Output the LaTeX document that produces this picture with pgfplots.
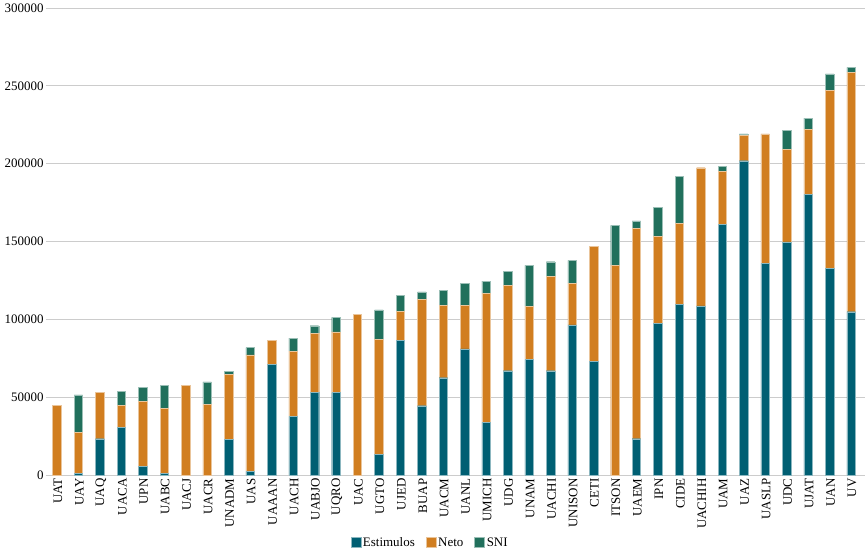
\documentclass[border=0pt]{standalone}
\usepackage{fontspec}
\setmainfont{Liberation Serif}
\usepackage{pgfplots}
\usepackage{pgfplotstable}
\pgfplotsset{compat=1.18}

\definecolor{estim}{RGB}{0,95,115}
\definecolor{neto}{RGB}{209,126,32}
\definecolor{sni}{RGB}{33,112,92}

\pgfplotstableread{
idx name est neto sni
0 UAT 0 44800 0
1 UAY 1000 26400 24000
2 UAQ 23300 29800 0
3 UACA 30600 14200 9100
4 UPN 5600 41900 8800
5 UABC 900 42100 14800
6 UACJ 0 57800 0
7 UACR 0 45400 14500
8 UNADM 22700 42000 1700
9 UAS 2400 74700 4700
10 UAAAN 70900 15600 0
11 UACH 37700 41900 8400
12 UABJO 52900 38300 4700
13 UQRO 52900 39100 9300
14 UAC 0 103400 0
15 UGTO 13300 74000 18700
16 UJED 86300 19000 9900
17 BUAP 44500 68300 4900
18 UACM 62500 46700 9200
19 UANL 81100 28100 13900
20 UMICH 33800 83100 7700
21 UDG 67000 55000 8600
22 UNAM 74100 34200 26400
23 UACHI 67000 60600 9400
24 UNISON 96500 26600 14800
25 CETI 73000 74100 0
26 ITSON 0 134700 25700
27 UAEM 23300 135300 4700
28 IPN 97200 56300 18400
29 CIDE 109600 52200 30200
30 UACHIH 108700 88700 0
31 UAM 161000 34200 3000
32 UAZ 201900 16500 800
33 UASLP 136000 83200 0
34 UDC 149800 59600 12200
35 UJAT 180300 41900 7100
36 UAN 132900 114400 10400
37 UV 104900 153900 3000
}\datatable

\begin{document}
\begin{tikzpicture}
\begin{axis}[
    scale only axis,
    width=819bp,
    height=467bp,
    ybar stacked,
    bar width=8.5bp,
    xmin=-0.51, xmax=37.65,
    ymin=0, ymax=300000,
    ytick={0,50000,...,300000},
    scaled y ticks=false,
    /pgf/number format/.cd, fixed, 1000 sep={}, assume math mode=true,
    /pgfplots/.cd,
    xtick=data,
    xticklabels from table={\datatable}{name},
    ymajorgrids=true,
    grid style={black!20, line width=0.8pt},
    axis line style={draw=none},
    major tick style={draw=none},
    ticklabel style={font=\rmfamily\fontsize{13}{15}\selectfont},
    yticklabel style={xshift=1bp},
    xticklabel style={rotate=90, anchor=east, yshift=-1bp},
    legend style={at={(0.469,-0.146)}, anchor=center, draw=none,
        font=\rmfamily\fontsize{13}{15}\selectfont, legend columns=3,
        inner sep=0pt,
        /tikz/every even column/.append style={column sep=9bp}},
    legend image code/.code={\fill[#1] (0bp,-4bp) rectangle (10bp,6bp);},
]
\coordinate (o) at (rel axis cs:0,0);
\addplot[fill=estim, draw=estim!45, line width=0.4bp] table[x=idx, y=est] {\datatable};
\addplot[fill=neto, draw=neto!45, line width=0.4bp] table[x=idx, y=neto] {\datatable};
\addplot[fill=sni, draw=sni!45, line width=0.4bp] table[x=idx, y=sni] {\datatable};
\legend{Estimulos, Neto, SNI}
\end{axis}
\pgfresetboundingbox
\path ([shift={(-46bp,-83bp)}]o) rectangle ([shift={(822bp,475bp)}]o);
\end{tikzpicture}
\end{document}
